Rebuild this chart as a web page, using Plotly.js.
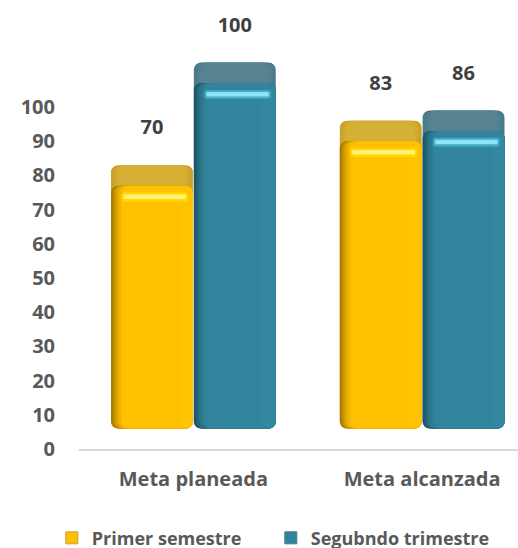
<!DOCTYPE html>
<html><head><meta charset="utf-8">
<script src="https://cdn.plot.ly/plotly-3.0.1.min.js"></script>
<style>html,body{margin:0;padding:0;background:#fff}</style></head>
<body><div id="chart" style="width:518px;height:548px"></div>
<script>
const categories = ["Meta planeada", "Meta alcanzada"];
const primerSemestre = [70, 83];
const segundoTrimestre = [100, 86];
const yTicks = [0,10,20,30,40,50,60,70,80,90,100];

const BASE = 6, LIFT = 7, DEPTH = 6, LABEL = 10.5, BW = 0.358;
const xs = [0, 1];
const series = [
  {name:"Primer semestre", vals:primerSemestre, off:-BW-0.002, main:"#ffc000",
   cap:["#c9a22e","#d2aa30","#d6af35"], layers:[
     [0,0,"#a87c00"],[0.008,0,"#bd8c00"],[0.016,0,"#d29c00"],[0.024,0,"#e3a900"],[0.034,0,"#f3b500"],[0.046,0,"#ffc000"]],
   right:"#ffc300", glow:"#ffd800", hi:"#fff27a"},
  {name:"Segubndo trimestre", vals:segundoTrimestre, off:0.002, main:"#31849b",
   cap:["#4a7a8a","#527f8f","#56838f"], layers:[
     [0,0,"#1d5566"],[0.008,0,"#225f72"],[0.016,0,"#276b7f"],[0.024,0,"#2b7489"],[0.034,0,"#2e7c92"],[0.046,0,"#31849b"]],
   right:"#33889f", glow:"#45a9c4", hi:"#8ce4f6"}
];

const traces = [];
function bar(s, base, tops, dl, dr, color, radius){
  traces.push({
    type:"bar", x:xs, y:tops.map((t,i)=>t-base[i]), base:base,
    offset:s.off+dl, width:BW-dl-dr,
    marker:{color:color, line:{width:0}, cornerradius:radius},
    showlegend:false, hoverinfo:"skip"
  });
}
series.forEach(s=>{
  const base = s.vals.map(()=>BASE);
  const front = s.vals.map(v=>v+LIFT);
  s.cap.forEach((c,i)=>bar(s, base, s.vals.map(v=>v+LIFT+DEPTH), i*0.015, i*0.015, c, 7));
  s.layers.forEach(l=>bar(s, base, front, l[0], l[1], l[2], 7));
  bar(s, base.map(b=>b+0.6), front.map(t=>t-1.4), 0.30, 0, s.right, 4);
  bar(s, front.map(t=>t-4.6), front.map(t=>t-2), 0.045, 0.02, s.glow, 3);
  bar(s, front.map(t=>t-3.9), front.map(t=>t-2.6), 0.055, 0.03, s.hi, 1);
  traces.push({type:"bar", x:[null], y:[null], name:s.name, marker:{color:s.main, line:{color:s.cap[0],width:1}}, showlegend:true, hoverinfo:"skip"});
  traces.push({type:"scatter", mode:"text", x:xs.map(x=>x+s.off+BW/2), y:s.vals.map(v=>v+LIFT+DEPTH+LABEL),
    text:s.vals.map(String), textposition:"middle center",
    textfont:{family:"'Open Sans', sans-serif", size:20, color:"#404040", weight:700},
    showlegend:false, hoverinfo:"skip", cliponaxis:false});
});

const font = {family:"'Open Sans', sans-serif", color:"#595959", size:19, weight:700};
Plotly.newPlot("chart", traces, {
  width:518, height:548,
  margin:{l:78.5, r:0, t:0, b:99, pad:0},
  paper_bgcolor:"#fff", plot_bgcolor:"#fff",
  barmode:"overlay", showlegend:true, font:font,
  xaxis:{range:[-0.5,1.419], tickmode:"array", tickvals:xs, ticktext:categories, ticks:"",
    showgrid:false, zeroline:false, showline:true, linecolor:"#d9d9d9", linewidth:2,
    tickfont:Object.assign({},font,{size:20}), ticklabelstandoff:11},
  yaxis:{range:[0,131.3], tickmode:"array", tickvals:yTicks, ticks:"", showgrid:false, zeroline:false, showline:false,
    tickfont:Object.assign({},font,{size:20}), ticklabelstandoff:23},
  legend:{orientation:"h", x:0.1, xref:"container", xanchor:"left", y:0.018, yref:"container", yanchor:"middle",
    font:Object.assign({},font,{size:18}), itemwidth:30, entrywidth:174, entrywidthmode:"pixels", bgcolor:"rgba(0,0,0,0)"}
}, {displayModeBar:false, staticPlot:true});
</script></body></html>
